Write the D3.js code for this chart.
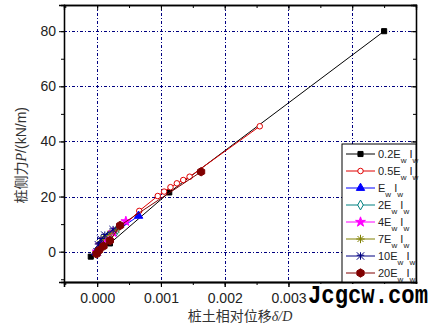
<!DOCTYPE html>
<html>
<head>
<meta charset="utf-8">
<script src="https://cdn.jsdelivr.net/npm/d3@7"></script>
<style>
  body { margin: 0; background: #fff; }
  svg { display: block; }
</style>
</head>
<body>
<div id="chart"></div>
<script>
// series data: [δ/D, P]
const s02 = [[-0.0001, -1.8], [0.00002, 0.2], [0.0002, 3], [0.00113, 21.5], [0.0045, 80]];
const s05 = [[-0.00003, -0.5], [0.00005, 1.2], [0.0002, 4.5], [0.00066, 14.8], [0.00095, 20.2], [0.00105, 21.8],
             [0.00115, 23.4], [0.00125, 24.8], [0.00135, 26], [0.00145, 27.2], [0.00255, 45.5]];
const sE = [[-0.00002, -0.3], [0.00003, 1.5], [0.0001, 4], [0.00016, 5.2], [0.00065, 13]];
const s2E = [[-0.00001, 0], [0.00004, 2], [0.0001, 3.5], [0.00018, 5.5], [0.0003, 7.5]];
const s4E = [[0, 0], [0.00005, 2.5], [0.00012, 4.5], [0.00025, 7], [0.00045, 11]];
const s7E = [[0, 0], [0.00004, 3], [0.0001, 5], [0.0002, 6.5], [0.0003, 8]];
const s10E = [[0, 0], [0.00002, 2.5], [0.00006, 4.5], [0.00012, 6], [0.00025, 8]];
const s20E = [[-0.00001, -0.8], [0.00003, 0.5], [0.0001, 2], [0.0002, 4], [0.00036, 9.5], [0.00163, 29]];

const legendNames = ["0.2E", "0.5E", "E", "2E", "4E", "7E", "10E", "20E"];
const xTicks = [0, 0.001, 0.002, 0.003, 0.004, 0.005];
const xLabelTicks = [0, 0.001, 0.002, 0.003];
const yTicks = [0, 20, 40, 60, 80];

const series = [
  {name: legendNames[0], data: s02, color: "#000000", sym: "square", fill: true},
  {name: legendNames[1], data: s05, color: "#e00000", sym: "circle", fill: false},
  {name: legendNames[2], data: sE, color: "#0000ff", sym: "triangle", fill: true},
  {name: legendNames[3], data: s2E, color: "#008080", sym: "diamond", fill: false},
  {name: legendNames[4], data: s4E, color: "#ff00ff", sym: "star", fill: true},
  {name: legendNames[5], data: s7E, color: "#808000", sym: "asterisk", fill: false},
  {name: legendNames[6], data: s10E, color: "#000080", sym: "cross", fill: false},
  {name: legendNames[7], data: s20E, color: "#800000", sym: "hexagon", fill: true}
];

const W = 436, H = 333;
const margin = {top: 5, right: 20, bottom: 51, left: 64};
const iw = W - margin.left - margin.right;
const ih = H - margin.top - margin.bottom;

const svg = d3.select("#chart").append("svg").attr("width", W).attr("height", H);
const g = svg.append("g").attr("transform", `translate(${margin.left},${margin.top})`);

const x = d3.scaleLinear().domain([-0.00052, 0.005]).range([0, iw]);
const y = d3.scaleLinear().domain([-11, 89.5]).range([ih, 0]);

// grid
const gridStyle = sel => sel.attr("stroke", "#000080").attr("stroke-width", 1).attr("stroke-dasharray", "3,2,1,2");
g.selectAll(".gx").data(xTicks.slice(0, 5)).enter().append("line")
  .attr("x1", d => Math.round(x(d)) + 0.5).attr("x2", d => Math.round(x(d)) + 0.5)
  .attr("y1", 0).attr("y2", ih).call(gridStyle);
g.selectAll(".gy").data(yTicks).enter().append("line")
  .attr("y1", d => Math.round(y(d)) + 0.5).attr("y2", d => Math.round(y(d)) + 0.5)
  .attr("x1", 0).attr("x2", iw).call(gridStyle);

// axes
const xMinor = d3.range(-0.0005, 0.00501, 0.0005);
const yMinor = d3.range(-10, 90, 10);
const font = "'Liberation Sans', Arial, sans-serif";

g.append("g").attr("transform", `translate(0,${ih})`)
  .call(d3.axisBottom(x).tickValues(xLabelTicks).tickFormat(d3.format(".3f")).tickSize(5).tickPadding(6));
g.append("g").attr("transform", `translate(0,${ih})`)
  .call(d3.axisBottom(x).tickValues(xTicks).tickFormat("").tickSize(5));
g.append("g").attr("transform", `translate(0,${ih})`)
  .call(d3.axisBottom(x).tickValues(xMinor).tickFormat("").tickSize(3));
g.append("g").call(d3.axisLeft(y).tickValues(yTicks).tickSize(5).tickPadding(3));
g.append("g").call(d3.axisLeft(y).tickValues(yMinor).tickFormat("").tickSize(3));
// top and right (inward ticks)
g.append("g").call(d3.axisTop(x).tickValues(xTicks).tickFormat("").tickSize(-5));
g.append("g").call(d3.axisTop(x).tickValues(xMinor).tickFormat("").tickSize(-3));
g.append("g").attr("transform", `translate(${iw},0)`).call(d3.axisRight(y).tickValues(yTicks).tickFormat("").tickSize(-5));
g.append("g").attr("transform", `translate(${iw},0)`).call(d3.axisRight(y).tickValues(yMinor).tickFormat("").tickSize(-3));

g.selectAll(".domain").attr("stroke", "#000").attr("stroke-width", 1.3);
g.selectAll(".tick line").attr("stroke", "#000");
g.selectAll(".tick text").attr("font-family", font).attr("font-size", 14).attr("fill", "#222");

// symbols
const hexagon = {draw(ctx, size) {
  const r = Math.sqrt(size / 2.6);
  for (let i = 0; i < 6; i++) {
    const a = Math.PI / 6 + i * Math.PI / 3;
    i ? ctx.lineTo(r * Math.cos(a), r * Math.sin(a)) : ctx.moveTo(r * Math.cos(a), r * Math.sin(a));
  }
  ctx.closePath();
}};
const asterisk = {draw(ctx, size) {
  const r = Math.sqrt(size) / 1.6;
  for (let i = 0; i < 4; i++) {
    const a = i * Math.PI / 4;
    ctx.moveTo(-r * Math.cos(a), -r * Math.sin(a));
    ctx.lineTo(r * Math.cos(a), r * Math.sin(a));
  }
}};
const crossBox = {draw(ctx, size) {
  const r = Math.sqrt(size) / 1.8;
  ctx.moveTo(-r, -r); ctx.lineTo(r, r);
  ctx.moveTo(-r, r); ctx.lineTo(r, -r);
  ctx.moveTo(-r, -r * 0.2); ctx.lineTo(r, -r * 0.2);
  ctx.moveTo(0, -r); ctx.lineTo(0, r);
}};
const symType = {
  square: d3.symbolSquare, circle: d3.symbolCircle, triangle: d3.symbolTriangle,
  diamond: d3.symbolDiamond, star: d3.symbolStar, asterisk: asterisk, cross: crossBox, hexagon: hexagon
};
const symSize = {square: 26, circle: 24, triangle: 30, diamond: 28, star: 30, asterisk: 45, cross: 45, hexagon: 45};

function drawMarker(sel, s) {
  sel.attr("d", d3.symbol().type(symType[s.sym]).size(symSize[s.sym])())
    .attr("fill", s.fill ? s.color : "#fff")
    .attr("stroke", s.color).attr("stroke-width", 1);
  if (s.sym === "asterisk" || s.sym === "cross") sel.attr("fill", "none");
}

const line = d3.line().x(d => x(d[0])).y(d => y(d[1]));
const plot = g.append("g");
series.forEach(s => {
  plot.append("path").datum(s.data).attr("d", line)
    .attr("fill", "none").attr("stroke", s.color).attr("stroke-width", 1);
  plot.selectAll(null).data(s.data).enter().append("path")
    .attr("transform", d => `translate(${x(d[0])},${y(d[1])})`)
    .call(drawMarker, s);
});

// legend
const rowH = 17;
const lg = g.append("g").attr("transform", `translate(${iw - 74},${ih - series.length * rowH - 2})`);
lg.append("rect").attr("x", 0).attr("y", 0).attr("width", 74).attr("height", series.length * rowH + 2)
  .attr("fill", "#fff").attr("stroke", "#000").attr("stroke-width", 1);
series.forEach((s, i) => {
  const ry = 10 + i * rowH;
  const row = lg.append("g").attr("transform", `translate(0,${ry})`);
  row.append("line").attr("x1", 4).attr("x2", 33).attr("y1", 0).attr("y2", 0)
    .attr("stroke", s.color).attr("stroke-width", 1);
  row.append("path").attr("transform", "translate(18.5,0)").call(drawMarker, s);
  const t = row.append("text").attr("x", 36).attr("y", 4)
    .attr("font-family", font).attr("font-size", 11).attr("fill", "#222");
  t.append("tspan").text(s.name);
  t.append("tspan").attr("font-size", 8).attr("dy", 5).text("w");
  t.append("tspan").attr("dy", -5).text(" I");
  t.append("tspan").attr("font-size", 8).attr("dy", 5).text("w");
});

// axis titles
const yt = svg.append("text")
  .attr("transform", `translate(26,${margin.top + y(35)}) rotate(-90)`)
  .attr("text-anchor", "middle").attr("font-family", "'Noto Sans CJK SC', sans-serif")
  .attr("font-size", 14).attr("fill", "#333");
yt.append("tspan").text("桩侧力");
yt.append("tspan").attr("font-family", "'Liberation Serif', serif").attr("font-style", "italic").text("P");
yt.append("tspan").attr("font-family", font).text("/(kN/m)");

const xt = svg.append("text")
  .attr("x", margin.left + iw / 2).attr("y", 321)
  .attr("text-anchor", "middle").attr("font-family", "'Noto Sans CJK SC', sans-serif")
  .attr("font-size", 14).attr("fill", "#333");
xt.append("tspan").text("桩土相对位移");
xt.append("tspan").attr("font-family", "'Liberation Serif', serif").attr("font-style", "italic").text("δ/D");

// watermark
svg.append("rect").attr("x", 308).attr("y", 284).attr("width", 124).attr("height", 22).attr("fill", "#fff");
svg.append("text").attr("x", 308).attr("y", 303)
  .attr("font-family", "'Liberation Mono', 'DejaVu Sans Mono', monospace").attr("font-size", 25)
  .attr("font-weight", "bold").attr("textLength", 120).attr("lengthAdjust", "spacingAndGlyphs")
  .attr("fill", "#000").text("Jcgcw.com");
</script>
</body>
</html>
